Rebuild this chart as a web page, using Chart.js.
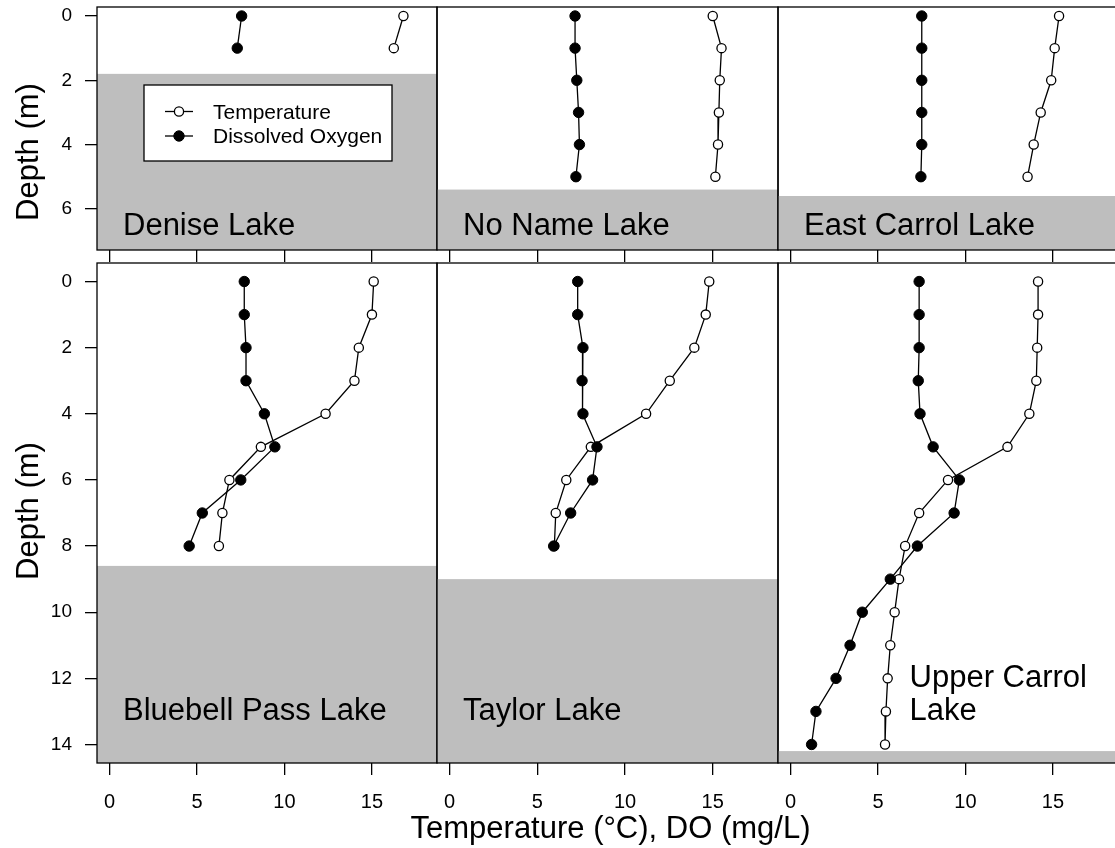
<!DOCTYPE html>
<html>
<head>
<meta charset="utf-8">
<title>Lake temperature and DO profiles</title>
<script src="https://cdn.jsdelivr.net/npm/chart.js@4.4.1/dist/chart.umd.min.js"></script>
<style>
  body { margin: 0; background: #fff; overflow: hidden; }
  #figure { position: relative; width: 1115px; height: 848px; overflow: hidden; background: #fff; }
  #figure canvas { position: absolute; }
</style>
</head>
<body>
<div id="figure"></div>
<script>
// ---- data ----
const lakeNames = ['Denise Lake', 'No Name Lake', 'East Carrol Lake', 'Bluebell Pass Lake', 'Taylor Lake', 'Upper Carrol Lake'];
// depth where the grey "lake bottom" starts (m)
const lakeBottoms = [1.8, 5.4, 5.6, 8.6, 9.0, 14.2];

const deniseDepth = [0, 1];
const deniseTemp = [16.8, 16.25];
const deniseDO = [7.55, 7.3];

const noNameDepth = [0, 1, 2, 3, 4, 5];
const noNameTemp = [15.0, 15.5, 15.4, 15.35, 15.3, 15.15];
const noNameDO = [7.15, 7.15, 7.25, 7.35, 7.4, 7.2];

const eastCarrolDepth = [0, 1, 2, 3, 4, 5];
const eastCarrolTemp = [15.35, 15.1, 14.9, 14.3, 13.9, 13.55];
const eastCarrolDO = [7.5, 7.5, 7.5, 7.5, 7.5, 7.45];

const bluebellDepth = [0, 1, 2, 3, 4, 5, 6, 7, 8];
const bluebellTemp = [15.1, 15.0, 14.25, 14.0, 12.35, 8.65, 6.85, 6.45, 6.25];
const bluebellDO = [7.7, 7.7, 7.8, 7.8, 8.85, 9.45, 7.5, 5.3, 4.55];

const taylorDepth = [0, 1, 2, 3, 4, 5, 6, 7, 8];
const taylorTemp = [14.8, 14.6, 13.95, 12.55, 11.2, 8.05, 6.65, 6.05, 5.97];
const taylorDO = [7.3, 7.3, 7.6, 7.55, 7.6, 8.4, 8.15, 6.9, 5.93];

const upperCarrolDepth = [0, 1, 2, 3, 4, 5, 6, 7, 8, 9, 10, 11, 12, 13, 14];
const upperCarrolTemp = [14.15, 14.15, 14.1, 14.05, 13.65, 12.4, 9.0, 7.35, 6.55, 6.2, 5.95, 5.7, 5.55, 5.45, 5.4];
const upperCarrolDO = [7.35, 7.35, 7.35, 7.3, 7.4, 8.15, 9.65, 9.35, 7.25, 5.7, 4.1, 3.4, 2.6, 1.45, 1.2];

const xTicks = [0, 5, 10, 15];
const yTicksTop = [0, 2, 4, 6];
const yTicksBottom = [0, 2, 4, 6, 8, 10, 12, 14];

// ---- layout ----
const FONT = '"Liberation Sans", Arial, Helvetica, sans-serif';
Chart.defaults.font.family = FONT;
Chart.defaults.color = '#000';

const colLeft = [97, 437, 778];
const colRight = [437, 778, 1118];
const rowTop = [7, 263];
const rowBottom = [250, 763];
const axisHeight = [13, 85];
const yRange = [[-0.28, 7.28], [-0.56, 14.56]];
const xRange = [-0.72, 18.72];

const figure = document.getElementById('figure');

function panelPlugin(idx, row, col) {
  return {
    id: 'panel',
    beforeDatasetsDraw(chart) {
      const {ctx, chartArea: a, scales: {x, y}} = chart;
      ctx.save();
      // lake bottom
      const top = y.getPixelForValue(lakeBottoms[idx]);
      ctx.fillStyle = '#bebebe';
      ctx.fillRect(a.left, top, a.right - a.left, a.bottom - top);
      // lake name
      ctx.fillStyle = '#000';
      ctx.font = '31px ' + FONT;
      ctx.textBaseline = 'alphabetic';
      ctx.textAlign = 'left';
      if (idx === 5) {
        const parts = lakeNames[idx].split(' ');
        const lx = x.getPixelForValue(6.8);
        ctx.fillText(parts[0] + ' ' + parts[1], lx, y.getPixelForValue(12.25));
        ctx.fillText(parts[2], lx, y.getPixelForValue(13.25));
      } else {
        const ly = row === 0 ? y.getPixelForValue(6.8) : y.getPixelForValue(13.25);
        ctx.fillText(lakeNames[idx], a.left + 26, ly);
      }
      ctx.restore();
    },
    afterDatasetsDraw(chart) {
      const {ctx, chartArea: a} = chart;
      ctx.save();
      ctx.strokeStyle = '#000';
      ctx.lineWidth = 1.3;
      ctx.strokeRect(a.left, a.top, a.right - a.left, a.bottom - a.top);

      if (idx === 0) {
        // legend box
        const bx = a.left + 47, by = a.top + 78, bw = 248, bh = 76;
        ctx.fillStyle = '#fff';
        ctx.fillRect(bx, by, bw, bh);
        ctx.strokeRect(bx, by, bw, bh);
        chart.data.datasets.forEach((ds, k) => {
          const ry = by + 26.5 + k * 24.5;
          ctx.beginPath();
          ctx.moveTo(bx + 21, ry);
          ctx.lineTo(bx + 49, ry);
          ctx.strokeStyle = ds.borderColor;
          ctx.lineWidth = ds.borderWidth;
          ctx.stroke();
          ctx.beginPath();
          ctx.arc(bx + 35, ry, ds.pointRadius, 0, Math.PI * 2);
          ctx.fillStyle = ds.pointBackgroundColor;
          ctx.fill();
          ctx.lineWidth = ds.pointBorderWidth;
          ctx.stroke();
          ctx.fillStyle = '#000';
          ctx.font = '21px ' + FONT;
          ctx.textAlign = 'left';
          ctx.textBaseline = 'alphabetic';
          ctx.fillText(ds.label, bx + 69, ry + 7.3);
        });
      }
      if (idx === 4) {
        // shared x axis title, centred under the middle panel
        ctx.fillStyle = '#000';
        ctx.font = '31px ' + FONT;
        ctx.textAlign = 'center';
        ctx.textBaseline = 'alphabetic';
        ctx.fillText('Temperature (\u00B0C), DO (mg/L)', (a.left + a.right) / 2 + 3, a.bottom + 75);
      }
      if (col === 0) {
        ctx.fillStyle = '#000';
        ctx.font = '31px ' + FONT;
        ctx.textAlign = 'center';
        ctx.textBaseline = 'alphabetic';
        ctx.translate(38, row === 0 ? 152 : 511 - 261);
        ctx.rotate(-Math.PI / 2);
        ctx.fillText('Depth (m)', 0, 0);
      }
      ctx.restore();
    }
  };
}

function makePanel(idx, row, col, depth, temp, dox) {
  let cLeft = col === 0 ? 0 : colLeft[col] - 2;
  let cRight = colRight[col] + 2;
  if (row === 1 && col === 1) { cLeft = 380; cRight = 840; }
  const cTop = row === 0 ? 0 : rowTop[row] - 2;
  const cBottom = rowBottom[row] + axisHeight[row];
  const yAxisW = col === 0 ? colLeft[0] : 0;

  const canvas = document.createElement('canvas');
  canvas.width = cRight - cLeft;
  canvas.height = cBottom - cTop;
  canvas.style.left = cLeft + 'px';
  canvas.style.top = cTop + 'px';
  figure.appendChild(canvas);

  const yTicks = row === 0 ? yTicksTop : yTicksBottom;

  new Chart(canvas, {
    type: 'line',
    data: {
      datasets: [
        {
          label: 'Temperature',
          data: depth.map((d, k) => ({x: temp[k], y: d})),
          borderColor: '#000',
          borderWidth: 1.3,
          pointRadius: 4.6,
          pointBorderWidth: 1.3,
          pointBorderColor: '#000',
          pointBackgroundColor: '#fff',
          tension: 0,
          order: 1
        },
        {
          label: 'Dissolved Oxygen',
          data: depth.map((d, k) => ({x: dox[k], y: d})),
          borderColor: '#000',
          borderWidth: 1.3,
          pointRadius: 5.2,
          pointBorderWidth: 1,
          pointBorderColor: '#000',
          pointBackgroundColor: '#000',
          tension: 0,
          order: 0
        }
      ]
    },
    options: {
      responsive: false,
      animation: false,
      events: [],
      layout: {
        autoPadding: false,
        padding: {
          left: colLeft[col] - cLeft - yAxisW,
          right: cRight - colRight[col],
          top: rowTop[row] - cTop,
          bottom: 0
        }
      },
      plugins: {
        legend: {display: false},
        tooltip: {enabled: false}
      },
      scales: {
        x: {
          type: 'linear',
          min: xRange[0],
          max: xRange[1],
          afterBuildTicks: (axis) => { axis.ticks = xTicks.map(v => ({value: v})); },
          afterFit: (axis) => {
            axis.height = axisHeight[row];
            axis.paddingLeft = 0;
            axis.paddingRight = 0;
          },
          border: {display: false},
          grid: {drawOnChartArea: false, drawTicks: true, tickLength: 12, color: '#000', lineWidth: 1.3},
          ticks: {display: row === 1, padding: 15, font: {size: 20}, maxRotation: 0}
        },
        y: {
          type: 'linear',
          reverse: true,
          display: col === 0,
          min: yRange[row][0],
          max: yRange[row][1],
          afterBuildTicks: (axis) => { axis.ticks = yTicks.map(v => ({value: v})); },
          afterFit: (axis) => {
            axis.width = yAxisW;
            axis.paddingTop = 0;
            axis.paddingBottom = 0;
          },
          border: {display: false},
          grid: {drawOnChartArea: false, drawTicks: true, tickLength: 12, color: '#000', lineWidth: 1.3},
          ticks: {padding: 13, font: {size: 19}}
        }
      }
    },
    plugins: [panelPlugin(idx, row, col)]
  });
}

makePanel(0, 0, 0, deniseDepth, deniseTemp, deniseDO);
makePanel(1, 0, 1, noNameDepth, noNameTemp, noNameDO);
makePanel(2, 0, 2, eastCarrolDepth, eastCarrolTemp, eastCarrolDO);
makePanel(3, 1, 0, bluebellDepth, bluebellTemp, bluebellDO);
makePanel(4, 1, 1, taylorDepth, taylorTemp, taylorDO);
makePanel(5, 1, 2, upperCarrolDepth, upperCarrolTemp, upperCarrolDO);
</script>
</body>
</html>
